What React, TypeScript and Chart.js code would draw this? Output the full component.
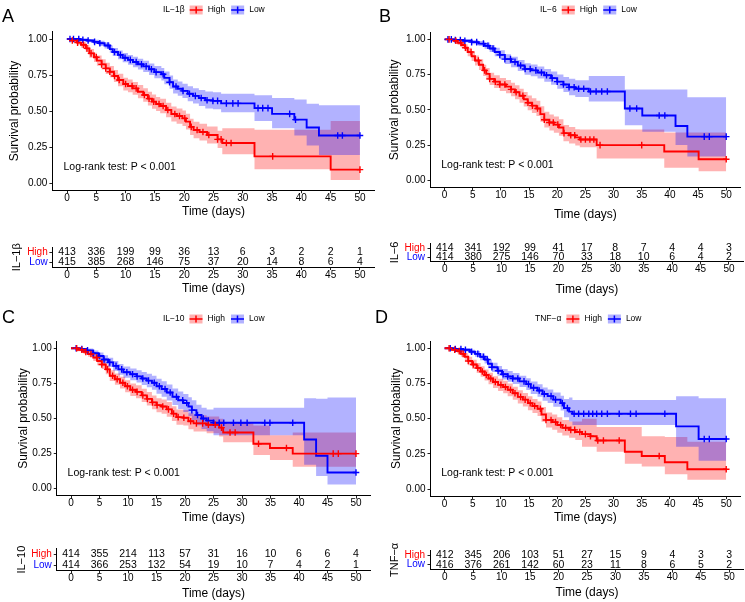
import React, { useEffect, useRef } from "react";
import { Chart, registerables } from "chart.js";

Chart.register(...registerables);

const FONT = "'Liberation Sans', Arial, Helvetica, sans-serif";
const RED = "#FF0000";
const BLUE = "#0000FF";
const RED_FILL = "rgba(255,0,0,0.3)";
const BLUE_FILL = "rgba(0,0,255,0.3)";

const timeTicks = [0, 5, 10, 15, 20, 25, 30, 35, 40, 45, 50];
const survTicks = [0, 0.25, 0.5, 0.75, 1];
const groupLabels = ["High", "Low"];
const pValueText = "Log-rank test: P < 0.001";

// ---------- Panel A : IL-1β ----------
const aHighTime = [0, 0.8, 1.7, 2.4, 3.2, 3.8, 4.6, 5.1, 5.9, 6.6, 7.3, 8.0, 8.7, 9.6, 10.4, 11.2, 12.1, 13.0, 13.8, 14.5, 15.2, 15.9, 16.9, 17.8, 18.7, 19.7, 20.3, 21.0, 21.6, 22.6, 23.9, 25.7, 26.5, 32.0, 45.0, 50];
const aHighSurv = [1, 0.99, 0.975, 0.96, 0.935, 0.9, 0.873, 0.85, 0.824, 0.796, 0.773, 0.743, 0.715, 0.687, 0.674, 0.657, 0.634, 0.611, 0.586, 0.565, 0.549, 0.535, 0.507, 0.479, 0.465, 0.449, 0.426, 0.39, 0.368, 0.354, 0.333, 0.303, 0.278, 0.185, 0.093, 0.093];
const aHighUpper = [1, 1, 0.99, 0.98, 0.96, 0.93, 0.905, 0.885, 0.86, 0.835, 0.812, 0.784, 0.758, 0.731, 0.718, 0.702, 0.68, 0.658, 0.634, 0.614, 0.598, 0.585, 0.558, 0.531, 0.518, 0.503, 0.481, 0.446, 0.425, 0.412, 0.392, 0.363, 0.38, 0.37, 0.43, 0.43];
const aHighLower = [1, 0.98, 0.96, 0.94, 0.91, 0.87, 0.841, 0.815, 0.788, 0.757, 0.734, 0.702, 0.672, 0.643, 0.63, 0.612, 0.588, 0.564, 0.538, 0.516, 0.5, 0.485, 0.456, 0.427, 0.412, 0.395, 0.371, 0.334, 0.311, 0.296, 0.274, 0.243, 0.2, 0.095, 0.02, 0.02];
const aHighCensor = [0.9, 1.8, 2.8, 3.4, 4.1, 5.0, 5.9, 6.6, 7.3, 8.1, 8.9, 10.0, 11.1, 11.8, 13.2, 14.0, 14.8, 15.7, 16.4, 17.2, 18.4, 19.2, 20.1, 21.2, 22.2, 23.2, 24.2, 25.7, 26.3, 27.2, 28.0, 35.1, 50];
const aLowTime = [0, 2.2, 3.4, 4.5, 5.5, 6.4, 7.3, 7.8, 8.7, 9.5, 10.4, 11.25, 12.1, 13.0, 14.0, 14.9, 16.1, 16.6, 17.5, 18.1, 18.9, 19.7, 20.6, 21.5, 22.5, 23.6, 24.9, 26.3, 32.0, 35.0, 38.8, 40.9, 43.0, 50];
const aLowSurv = [1, 0.995, 0.99, 0.98, 0.97, 0.955, 0.93, 0.91, 0.89, 0.87, 0.855, 0.84, 0.825, 0.81, 0.79, 0.77, 0.755, 0.73, 0.7, 0.67, 0.655, 0.64, 0.62, 0.605, 0.59, 0.575, 0.57, 0.553, 0.52, 0.48, 0.44, 0.385, 0.33, 0.33];
const aLowUpper = [1, 1, 1, 0.995, 0.988, 0.976, 0.955, 0.938, 0.92, 0.902, 0.889, 0.876, 0.862, 0.849, 0.83, 0.812, 0.798, 0.775, 0.746, 0.718, 0.704, 0.69, 0.672, 0.658, 0.645, 0.635, 0.63, 0.62, 0.61, 0.59, 0.58, 0.55, 0.54, 0.54];
const aLowLower = [1, 0.985, 0.978, 0.965, 0.952, 0.934, 0.905, 0.882, 0.86, 0.838, 0.821, 0.804, 0.788, 0.771, 0.75, 0.728, 0.712, 0.685, 0.654, 0.622, 0.606, 0.59, 0.568, 0.552, 0.535, 0.518, 0.512, 0.492, 0.43, 0.38, 0.33, 0.26, 0.195, 0.195];
const aLowCensor = [0.5, 1.1, 2.0, 2.7, 3.6, 4.7, 5.6, 7.0, 8.1, 9.1, 9.9, 10.8, 11.8, 12.7, 13.5, 14.4, 15.2, 16.4, 17.5, 18.6, 19.8, 20.9, 21.9, 22.9, 23.9, 24.9, 25.7, 27.2, 28.3, 29.2, 32.6, 33.4, 34.3, 38.0, 39.0, 46.2, 47.0, 50];
const aRiskHigh = [413, 336, 199, 99, 36, 13, 6, 3, 2, 2, 1];
const aRiskLow = [415, 385, 268, 146, 75, 37, 20, 14, 8, 6, 4];

// ---------- Panel B : IL-6 ----------
const bHighTime = [0, 1.6, 2.3, 3.0, 3.6, 4.1, 4.8, 5.4, 6.1, 6.85, 7.4, 8.0, 8.8, 9.8, 10.9, 11.8, 12.5, 13.3, 14.05, 14.75, 15.5, 16.3, 17.0, 17.7, 18.6, 19.4, 20.3, 21.1, 22.1, 23.2, 24.0, 27.0, 39.0, 45.1, 50];
const bHighSurv = [1, 0.99, 0.975, 0.96, 0.94, 0.91, 0.88, 0.85, 0.82, 0.78, 0.755, 0.72, 0.7, 0.68, 0.665, 0.645, 0.625, 0.6, 0.575, 0.55, 0.53, 0.51, 0.47, 0.43, 0.41, 0.395, 0.375, 0.335, 0.32, 0.305, 0.29, 0.25, 0.205, 0.15, 0.15];
const bHighUpper = [1, 1, 0.99, 0.98, 0.965, 0.94, 0.913, 0.886, 0.858, 0.82, 0.797, 0.764, 0.745, 0.726, 0.712, 0.693, 0.674, 0.65, 0.626, 0.602, 0.583, 0.564, 0.525, 0.486, 0.467, 0.452, 0.433, 0.393, 0.378, 0.363, 0.36, 0.36, 0.34, 0.34, 0.34];
const bHighLower = [1, 0.98, 0.96, 0.94, 0.915, 0.88, 0.847, 0.814, 0.782, 0.74, 0.713, 0.676, 0.655, 0.634, 0.618, 0.597, 0.576, 0.55, 0.524, 0.498, 0.477, 0.456, 0.415, 0.374, 0.353, 0.338, 0.317, 0.277, 0.262, 0.247, 0.235, 0.155, 0.09, 0.065, 0.065];
const bHighCensor = [0.8, 2.0, 2.9, 3.7, 4.7, 6.0, 7.1, 8.0, 9.0, 9.8, 10.7, 11.8, 12.7, 13.9, 14.8, 15.6, 16.5, 17.7, 18.6, 19.3, 20.1, 21.2, 22.4, 23.1, 24.2, 25.0, 25.8, 26.5, 27.6, 35.0, 50];
const bLowTime = [0, 1.9, 3.3, 4.8, 6.0, 7.1, 8.0, 8.9, 9.8, 10.7, 11.8, 13.0, 14.2, 15.3, 16.5, 17.7, 18.9, 20.0, 21.1, 22.1, 23.2, 25.6, 32.0, 35.1, 41.0, 43.1, 50];
const bLowSurv = [1, 0.995, 0.99, 0.98, 0.97, 0.955, 0.935, 0.91, 0.89, 0.86, 0.84, 0.815, 0.79, 0.78, 0.765, 0.745, 0.725, 0.7, 0.68, 0.66, 0.65, 0.63, 0.51, 0.46, 0.385, 0.31, 0.31];
const bLowUpper = [1, 1, 1, 0.995, 0.988, 0.977, 0.96, 0.94, 0.922, 0.895, 0.877, 0.854, 0.831, 0.822, 0.808, 0.79, 0.772, 0.75, 0.733, 0.72, 0.71, 0.74, 0.645, 0.645, 0.645, 0.59, 0.59];
const bLowLower = [1, 0.985, 0.978, 0.965, 0.952, 0.933, 0.91, 0.88, 0.858, 0.825, 0.803, 0.776, 0.749, 0.738, 0.722, 0.7, 0.678, 0.65, 0.627, 0.604, 0.592, 0.56, 0.39, 0.345, 0.25, 0.17, 0.17];
const bLowCensor = [0.6, 1.2, 1.9, 2.8, 3.6, 4.8, 5.7, 6.9, 7.7, 8.6, 9.8, 10.7, 11.7, 12.5, 13.5, 14.3, 15.2, 16.2, 17.2, 18.1, 19.1, 20.0, 21.1, 22.1, 23.0, 23.8, 24.7, 25.9, 26.9, 27.9, 28.9, 32.9, 34.1, 38.1, 39.1, 46.1, 47.0, 50];
const bRiskHigh = [414, 341, 192, 99, 41, 17, 8, 7, 4, 4, 3];
const bRiskLow = [414, 380, 275, 146, 70, 33, 18, 10, 6, 4, 2];

// ---------- Panel C : IL-10 ----------
const cHighTime = [0, 1.1, 2.2, 3.0, 3.9, 4.6, 5.4, 6.1, 6.8, 7.7, 8.6, 9.5, 10.4, 11.4, 12.4, 13.3, 14.2, 15.0, 15.9, 16.8, 17.7, 18.5, 19.7, 20.6, 21.5, 23.8, 26.0, 26.7, 32.0, 34.9, 38.9, 50];
const cHighSurv = [1, 0.99, 0.975, 0.96, 0.935, 0.91, 0.885, 0.85, 0.805, 0.78, 0.755, 0.73, 0.705, 0.69, 0.665, 0.64, 0.615, 0.595, 0.585, 0.565, 0.535, 0.51, 0.505, 0.48, 0.465, 0.455, 0.435, 0.4, 0.32, 0.29, 0.25, 0.25];
const cHighUpper = [1, 1, 0.99, 0.98, 0.96, 0.94, 0.917, 0.885, 0.843, 0.82, 0.797, 0.773, 0.75, 0.736, 0.712, 0.688, 0.664, 0.645, 0.636, 0.617, 0.588, 0.564, 0.56, 0.537, 0.523, 0.515, 0.498, 0.47, 0.45, 0.38, 0.4, 0.4];
const cHighLower = [1, 0.98, 0.96, 0.94, 0.91, 0.88, 0.853, 0.815, 0.767, 0.74, 0.713, 0.687, 0.66, 0.644, 0.618, 0.592, 0.566, 0.545, 0.534, 0.513, 0.482, 0.456, 0.45, 0.423, 0.407, 0.395, 0.372, 0.33, 0.24, 0.205, 0.157, 0.157];
const cHighCensor = [1.0, 1.9, 2.6, 3.5, 4.5, 5.4, 6.4, 7.3, 8.1, 9.1, 9.9, 10.8, 11.6, 12.6, 13.4, 14.3, 15.1, 16.1, 17.1, 18.0, 18.8, 19.8, 21.0, 22.0, 23.1, 24.1, 25.3, 26.4, 27.9, 28.8, 32.9, 37.8, 46.0, 46.9, 50];
const cLowTime = [0, 1.6, 2.7, 3.9, 4.8, 5.7, 6.5, 7.4, 8.3, 9.2, 10.4, 11.5, 12.4, 13.3, 14.2, 15.0, 15.9, 16.8, 17.8, 18.8, 19.7, 20.6, 21.2, 22.0, 22.9, 23.8, 25.0, 40.9, 43.0, 45.0, 50];
const cLowSurv = [1, 0.995, 0.985, 0.965, 0.945, 0.92, 0.9, 0.875, 0.85, 0.83, 0.815, 0.8, 0.785, 0.77, 0.755, 0.73, 0.71, 0.685, 0.655, 0.63, 0.61, 0.585, 0.56, 0.525, 0.5, 0.485, 0.47, 0.35, 0.235, 0.115, 0.115];
const cLowUpper = [1, 1, 0.998, 0.985, 0.97, 0.95, 0.933, 0.91, 0.888, 0.87, 0.857, 0.844, 0.831, 0.818, 0.805, 0.783, 0.765, 0.742, 0.714, 0.692, 0.674, 0.652, 0.63, 0.598, 0.576, 0.565, 0.577, 0.645, 0.64, 0.65, 0.65];
const cLowLower = [1, 0.985, 0.97, 0.945, 0.92, 0.89, 0.867, 0.84, 0.812, 0.79, 0.773, 0.756, 0.739, 0.722, 0.705, 0.677, 0.655, 0.628, 0.596, 0.568, 0.546, 0.518, 0.49, 0.452, 0.425, 0.41, 0.38, 0.17, 0.09, 0.03, 0.03];
const cLowCensor = [0.9, 1.9, 2.9, 3.9, 5.0, 5.8, 6.8, 7.9, 8.9, 9.8, 10.8, 11.6, 12.6, 13.6, 14.6, 15.5, 16.5, 17.4, 18.5, 19.6, 20.3, 21.2, 22.2, 23.2, 24.1, 25.0, 26.0, 26.8, 28.5, 29.8, 30.9, 34.0, 34.9, 38.9, 50];
const cRiskHigh = [414, 355, 214, 113, 57, 31, 16, 10, 6, 6, 4];
const cRiskLow = [414, 366, 253, 132, 54, 19, 10, 7, 4, 2, 1];

// ---------- Panel D : TNF-α ----------
const dHighTime = [0, 1.3, 2.2, 2.9, 3.6, 4.2, 4.9, 5.7, 6.4, 7.1, 7.8, 8.6, 9.5, 10.4, 11.2, 12.1, 13.0, 13.9, 14.8, 15.6, 16.5, 17.2, 18.0, 19.1, 20.0, 20.9, 22.1, 23.2, 24.4, 25.9, 27.0, 32.0, 35.0, 39.1, 43.1, 50];
const dHighSurv = [1, 0.99, 0.98, 0.96, 0.94, 0.91, 0.885, 0.86, 0.835, 0.81, 0.785, 0.76, 0.74, 0.725, 0.705, 0.68, 0.655, 0.635, 0.61, 0.59, 0.57, 0.53, 0.49, 0.475, 0.455, 0.435, 0.42, 0.405, 0.39, 0.375, 0.345, 0.265, 0.235, 0.19, 0.14, 0.14];
const dHighUpper = [1, 1, 0.995, 0.98, 0.965, 0.94, 0.918, 0.895, 0.872, 0.849, 0.826, 0.802, 0.783, 0.769, 0.75, 0.726, 0.702, 0.683, 0.66, 0.64, 0.621, 0.582, 0.543, 0.529, 0.51, 0.49, 0.48, 0.48, 0.5, 0.5, 0.44, 0.44, 0.375, 0.37, 0.335, 0.335];
const dHighLower = [1, 0.98, 0.965, 0.94, 0.915, 0.88, 0.852, 0.825, 0.798, 0.771, 0.744, 0.718, 0.697, 0.681, 0.66, 0.634, 0.608, 0.587, 0.56, 0.54, 0.519, 0.478, 0.437, 0.421, 0.4, 0.38, 0.364, 0.348, 0.3, 0.3, 0.265, 0.18, 0.16, 0.105, 0.065, 0.065];
const dHighCensor = [0.8, 1.8, 2.6, 3.3, 4.2, 5.1, 5.9, 6.7, 7.4, 8.2, 9.0, 10.0, 10.8, 11.7, 12.5, 13.5, 14.3, 15.2, 16.0, 17.0, 18.0, 18.9, 19.7, 20.6, 21.5, 22.4, 23.1, 24.0, 25.0, 25.9, 27.2, 28.2, 31.0, 38.1, 50];
const dLowTime = [0, 1.9, 3.3, 4.5, 5.4, 6.3, 7.1, 7.7, 8.4, 9.4, 10.2, 11.2, 12.1, 13.3, 14.5, 15.3, 16.5, 17.4, 18.3, 19.3, 20.6, 21.2, 22.1, 22.7, 41.1, 45.1, 50];
const dLowSurv = [1, 0.995, 0.99, 0.975, 0.96, 0.94, 0.92, 0.89, 0.865, 0.84, 0.815, 0.8, 0.785, 0.765, 0.745, 0.72, 0.7, 0.675, 0.66, 0.635, 0.61, 0.575, 0.55, 0.535, 0.445, 0.355, 0.355];
const dLowUpper = [1, 1, 1, 0.99, 0.98, 0.965, 0.948, 0.921, 0.898, 0.875, 0.852, 0.838, 0.824, 0.805, 0.787, 0.764, 0.745, 0.722, 0.708, 0.685, 0.662, 0.64, 0.65, 0.633, 0.66, 0.645, 0.645];
const dLowLower = [1, 0.985, 0.978, 0.958, 0.94, 0.915, 0.892, 0.859, 0.832, 0.805, 0.778, 0.762, 0.746, 0.725, 0.703, 0.676, 0.655, 0.628, 0.612, 0.585, 0.558, 0.51, 0.48, 0.455, 0.3, 0.2, 0.2];
const dLowCensor = [1.0, 1.9, 2.9, 3.7, 4.8, 5.9, 6.9, 7.6, 8.4, 9.5, 10.4, 11.2, 12.1, 13.0, 14.1, 14.9, 15.8, 16.8, 17.7, 18.9, 19.7, 20.9, 21.8, 23.0, 23.8, 24.7, 25.6, 26.3, 27.0, 27.9, 28.9, 31.0, 33.0, 34.0, 39.1, 46.1, 47.0, 50];
const dRiskHigh = [412, 345, 206, 103, 51, 27, 15, 9, 4, 3, 3];
const dRiskLow = [416, 376, 261, 142, 60, 23, 11, 8, 6, 5, 2];

// ---------- layout (positions, not data) ----------
type KMGeom = { x: number; y: number; w: number; h: number; padT: number; padR: number; yAxisW: number; xAxisH: number; yTitlePad: number; xTitlePad: number; letterX: number; letterY: number; legX: number; legY: number };
type RiskGeom = { x: number; y: number; w: number; h: number; padT: number; padR: number; yAxisW: number; xAxisH: number; yTitlePad: number; xTitlePad: number; yTickPad: number };
type Curve = { time: number[]; surv: number[]; upper: number[]; lower: number[]; censor: number[] };
type Panel = { letter: string; factor: string; high: Curve; low: Curve; riskHigh: number[]; riskLow: number[]; km: KMGeom; risk: RiskGeom };

const P_X = -0.6;
const P_Y = 0.11;

const panels: Panel[] = [
  {
    letter: "A", factor: "IL\u22121\u03B2",
    high: { time: aHighTime, surv: aHighSurv, upper: aHighUpper, lower: aHighLower, censor: aHighCensor },
    low: { time: aLowTime, surv: aLowSurv, upper: aLowUpper, lower: aLowLower, censor: aLowCensor },
    riskHigh: aRiskHigh, riskLow: aRiskLow,
    km: { x: 0, y: 0, w: 380, h: 225, padT: 31.8, padR: 5.4, yAxisW: 52.4, xAxisH: 34.8, yTitlePad: 7.8, xTitlePad: 6.3, letterX: 2, letterY: 17, legX: 163, legY: 10 },
    risk: { x: 0, y: 230, w: 380, h: 72, padT: 17.5, padR: 5.4, yAxisW: 52.4, xAxisH: 35, yTitlePad: 10.1, xTitlePad: 5.8, yTickPad: 1.7 },
  },
  {
    letter: "B", factor: "IL\u22126",
    high: { time: bHighTime, surv: bHighSurv, upper: bHighUpper, lower: bHighLower, censor: bHighCensor },
    low: { time: bLowTime, surv: bLowSurv, upper: bLowUpper, lower: bLowLower, censor: bLowCensor },
    riskHigh: bRiskHigh, riskLow: bRiskLow,
    km: { x: 372, y: 0, w: 373, h: 225, padT: 32.3, padR: 1.8, yAxisW: 58.5, xAxisH: 37.6, yTitlePad: 15.8, xTitlePad: 2.8, letterX: 7, letterY: 17, legX: 168, legY: 10 },
    risk: { x: 372, y: 230, w: 373, h: 72, padT: 13.5, padR: 1.8, yAxisW: 58.5, xAxisH: 40.5, yTitlePad: 16.4, xTitlePad: 4.8, yTickPad: 2.5 },
  },
  {
    letter: "C", factor: "IL\u221210",
    high: { time: cHighTime, surv: cHighSurv, upper: cHighUpper, lower: cHighLower, censor: cHighCensor },
    low: { time: cLowTime, surv: cLowSurv, upper: cLowUpper, lower: cLowLower, censor: cLowCensor },
    riskHigh: cRiskHigh, riskLow: cRiskLow,
    km: { x: 0, y: 300, w: 380, h: 225, padT: 41.3, padR: 9.75, yAxisW: 56.75, xAxisH: 29.3, yTitlePad: 16.1, xTitlePad: 0, letterX: 2, letterY: 18, legX: 163, legY: 19 },
    risk: { x: 0, y: 530, w: 380, h: 72, padT: 18.95, padR: 9.75, yAxisW: 56.75, xAxisH: 31.65, yTitlePad: 15.1, xTitlePad: 1.5, yTickPad: 2 },
  },
  {
    letter: "D", factor: "TNF\u2212\u03B1",
    high: { time: dHighTime, surv: dHighSurv, upper: dHighUpper, lower: dHighLower, censor: dHighCensor },
    low: { time: dLowTime, surv: dLowSurv, upper: dLowUpper, lower: dLowLower, censor: dLowCensor },
    riskHigh: dRiskHigh, riskLow: dRiskLow,
    km: { x: 372, y: 300, w: 373, h: 225, padT: 41.25, padR: 1.5, yAxisW: 58.5, xAxisH: 28.95, yTitlePad: 17.8, xTitlePad: 0, letterX: 3, letterY: 18, legX: 163, legY: 19 },
    risk: { x: 372, y: 530, w: 373, h: 72, padT: 20.15, padR: 1.5, yAxisW: 58.5, xAxisH: 32.45, yTitlePad: 16.4, xTitlePad: 1.8, yTickPad: 2.5 },
  },
];

// ---------- helpers ----------
function survAt(time: number[], surv: number[], t: number): number {
  let v = surv[0];
  for (let i = 0; i < time.length; i++) if (time[i] <= t) v = surv[i];
  return v;
}
const pts = (t: number[], v: number[]) => t.map((x, i) => ({ x, y: v[i] }));

const axisBorder = { display: true, color: "#000", width: 1 };
const axisGrid = { display: true, drawOnChartArea: false, drawTicks: true, tickLength: 3, color: "#222", lineWidth: 1, offset: false };

function timeAxis(xAxisH: number, titlePad: number) {
  return {
    type: "linear" as const,
    min: -2.5,
    max: 52.5,
    bounds: "data" as const,
    afterBuildTicks: (s: any) => { s.ticks = timeTicks.map((v) => ({ value: v })); },
    afterFit: (s: any) => { s.height = xAxisH; },
    border: axisBorder,
    grid: axisGrid,
    ticks: { color: "#000", font: { family: FONT, size: 10, lineHeight: 1 }, padding: 0, maxRotation: 0, autoSkip: false },
    title: { display: true, text: "Time (days)", color: "#000", font: { family: FONT, size: 12, lineHeight: 1.2 }, padding: { top: 0, bottom: titlePad } },
  };
}

function makeKM(canvas: HTMLCanvasElement, p: Panel) {
  const g = p.km;
  const cens = (c: Curve) => c.censor.map((t) => ({ x: t, y: survAt(c.time, c.surv, t) }));
  const line = { pointRadius: 0, pointHoverRadius: 0, stepped: "before" as const, fill: false };
  const band = { ...line, borderColor: "rgba(0,0,0,0)", borderWidth: 0 };
  const censorStyle = { showLine: false, pointStyle: "cross" as const, pointRadius: 3.3, pointHoverRadius: 3.3, pointBorderWidth: 1.4 };

  const decor = {
    id: "kmDecor",
    afterDraw(chart: any) {
      const ctx = chart.ctx as CanvasRenderingContext2D;
      const xs = chart.scales.x;
      const ys = chart.scales.y;
      ctx.save();
      ctx.fillStyle = "#000";
      ctx.textBaseline = "middle";
      ctx.textAlign = "left";
      ctx.font = `18px ${FONT}`;
      ctx.fillText(p.letter, g.letterX, g.letterY);
      ctx.font = `10.5px ${FONT}`;
      ctx.fillText(pValueText, xs.getPixelForValue(P_X), ys.getPixelForValue(P_Y));
      // legend
      ctx.font = `8.5px ${FONT}`;
      let lx = g.legX;
      const ly = g.legY;
      ctx.fillText(p.factor, lx, ly);
      lx += ctx.measureText(p.factor).width + 5;
      const keys = [
        { label: groupLabels[0], color: RED, fill: RED_FILL },
        { label: groupLabels[1], color: BLUE, fill: BLUE_FILL },
      ];
      for (const k of keys) {
        ctx.fillStyle = k.fill;
        ctx.fillRect(lx, ly - 4.5, 13, 9);
        ctx.strokeStyle = k.color;
        ctx.lineWidth = 1.5;
        ctx.beginPath();
        ctx.moveTo(lx, ly);
        ctx.lineTo(lx + 13, ly);
        ctx.moveTo(lx + 6.5, ly - 3.5);
        ctx.lineTo(lx + 6.5, ly + 3.5);
        ctx.stroke();
        lx += 13 + 5;
        ctx.fillStyle = "#000";
        ctx.fillText(k.label, lx, ly);
        lx += ctx.measureText(k.label).width + 6;
      }
      ctx.restore();
    },
  };

  return new Chart(canvas, {
    type: "line",
    data: {
      datasets: [
        { label: "High censor", data: cens(p.high), ...censorStyle, borderColor: RED, pointBorderColor: RED, backgroundColor: RED },
        { label: "Low censor", data: cens(p.low), ...censorStyle, borderColor: BLUE, pointBorderColor: BLUE, backgroundColor: BLUE },
        { label: "High", data: pts(p.high.time, p.high.surv), ...line, borderColor: RED, borderWidth: 1.9 },
        { label: "Low", data: pts(p.low.time, p.low.surv), ...line, borderColor: BLUE, borderWidth: 1.9 },
        { label: "Low upper", data: pts(p.low.time, p.low.upper), ...band },
        { label: "Low lower", data: pts(p.low.time, p.low.lower), ...band, fill: "-1", backgroundColor: BLUE_FILL },
        { label: "High upper", data: pts(p.high.time, p.high.upper), ...band },
        { label: "High lower", data: pts(p.high.time, p.high.lower), ...band, fill: "-1", backgroundColor: RED_FILL },
      ] as any,
    },
    options: {
      animation: false,
      responsive: false,
      maintainAspectRatio: false,
      events: [],
      layout: { padding: { left: 0, top: g.padT, right: g.padR, bottom: 0 } },
      plugins: { legend: { display: false }, tooltip: { enabled: false } },
      scales: {
        x: timeAxis(g.xAxisH, g.xTitlePad) as any,
        y: {
          type: "linear",
          min: -0.05,
          max: 1.05,
          bounds: "data",
          afterBuildTicks: (s: any) => { s.ticks = survTicks.map((v) => ({ value: v })); },
          afterFit: (s: any) => { s.width = g.yAxisW; },
          border: axisBorder,
          grid: axisGrid,
          ticks: { color: "#000", font: { family: FONT, size: 10 }, padding: 2, callback: (v: any) => Number(v).toFixed(2) },
          title: { display: true, text: "Survival probability", color: "#000", font: { family: FONT, size: 12, lineHeight: 1.2 }, padding: { top: g.yTitlePad, bottom: 0 } },
        } as any,
      },
    },
    plugins: [decor],
  });
}

function makeRisk(canvas: HTMLCanvasElement, p: Panel) {
  const g = p.risk;
  const numbers = {
    id: "riskNumbers",
    afterDraw(chart: any) {
      const ctx = chart.ctx as CanvasRenderingContext2D;
      const xs = chart.scales.x;
      const ys = chart.scales.y;
      ctx.save();
      ctx.fillStyle = "#000";
      ctx.font = `10.5px ${FONT}`;
      ctx.textAlign = "center";
      ctx.textBaseline = "middle";
      const rows = [p.riskHigh, p.riskLow];
      rows.forEach((row, r) => {
        const y = ys.getPixelForValue(r);
        row.forEach((n, i) => ctx.fillText(String(n), xs.getPixelForValue(timeTicks[i]), y));
      });
      ctx.restore();
    },
  };
  return new Chart(canvas, {
    type: "line",
    data: { labels: groupLabels, datasets: [] },
    options: {
      animation: false,
      responsive: false,
      maintainAspectRatio: false,
      events: [],
      layout: { padding: { left: 0, top: g.padT, right: g.padR, bottom: 0 } },
      plugins: { legend: { display: false }, tooltip: { enabled: false } },
      scales: {
        x: timeAxis(g.xAxisH, g.xTitlePad) as any,
        y: {
          type: "category",
          labels: groupLabels,
          offset: true,
          afterFit: (s: any) => { s.width = g.yAxisW; },
          border: axisBorder,
          grid: axisGrid,
          ticks: { color: (c: any) => (c.index === 0 ? RED : BLUE), font: { family: FONT, size: 10, lineHeight: 1 }, padding: g.yTickPad, autoSkip: false },
          title: { display: true, text: p.factor, color: "#000", font: { family: FONT, size: 11, lineHeight: 1.2 }, padding: { top: g.yTitlePad, bottom: 0 } },
        } as any,
      },
    },
    plugins: [numbers],
  });
}

function ChartCanvas({ x, y, w, h, build }: { x: number; y: number; w: number; h: number; build: (c: HTMLCanvasElement) => Chart }) {
  const ref = useRef<HTMLCanvasElement>(null);
  useEffect(() => {
    const chart = build(ref.current!);
    return () => chart.destroy();
  }, []);
  return <canvas ref={ref} width={w} height={h} style={{ position: "absolute", left: x, top: y, width: w, height: h }} />;
}

export default function App() {
  return (
    <div style={{ position: "absolute", left: 0, top: 0, width: 745, height: 602, background: "#fff", overflow: "hidden" }}>
      {panels.map((p) => (
        <React.Fragment key={p.letter}>
          <ChartCanvas x={p.km.x} y={p.km.y} w={p.km.w} h={p.km.h} build={(c) => makeKM(c, p)} />
          <ChartCanvas x={p.risk.x} y={p.risk.y} w={p.risk.w} h={p.risk.h} build={(c) => makeRisk(c, p)} />
        </React.Fragment>
      ))}
    </div>
  );
}
